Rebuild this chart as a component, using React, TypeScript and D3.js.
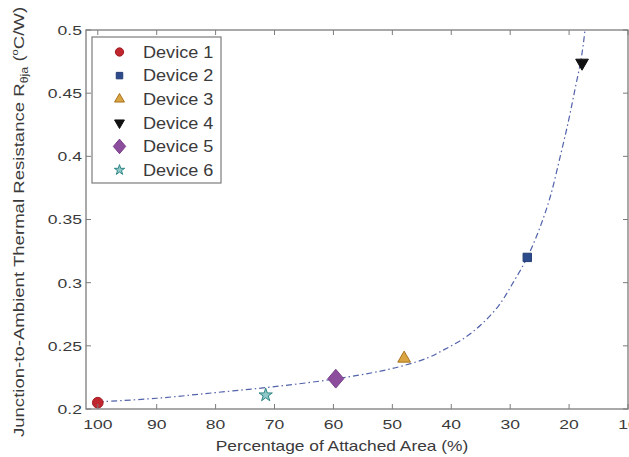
import React from 'react';
import * as d3 from 'd3';

// Measured devices: percentage of attached area vs. junction-to-ambient resistance
const deviceNames = ['Device 1', 'Device 2', 'Device 3', 'Device 4', 'Device 5', 'Device 6'];
const deviceArea = [100, 27.1, 48, 17.8, 59.6, 71.5];
const deviceRth = [0.205, 0.32, 0.24, 0.474, 0.224, 0.211];

// Fitted trend curve (dash-dot)
const fitArea = [100, 90, 80, 70, 60, 52, 48, 44, 41.4, 38, 35, 32, 29.5, 27.1, 25, 23.2, 21.5, 20.1, 19.0, 18.0, 17.5, 17.2];
const fitRth = [0.2056, 0.2085, 0.213, 0.2177, 0.2236, 0.23, 0.2345, 0.2405, 0.2465, 0.2555, 0.2665, 0.2815, 0.3, 0.32, 0.343, 0.368, 0.4, 0.428, 0.453, 0.476, 0.492, 0.505];

const xTicks = [100, 90, 80, 70, 60, 50, 40, 30, 20, 10];
const yTicks = [0.2, 0.25, 0.3, 0.35, 0.4, 0.45, 0.5];
const yTickLabels = ['0.2', '0.25', '0.3', '0.35', '0.4', '0.45', '0.5'];

const W = 629;
const H = 457;
const plot = { left: 86, right: 628, top: 30, bottom: 409 };
const FONT = '"Liberation Sans", Arial, Helvetica, sans-serif';
const AXIS = '#7c7c7c';
const TEXT = '#3a3a3a';
const TICK_STRETCH = 1.3;

// Custom symbols: square-like diamond and downward triangle
const diamondWide: d3.SymbolType = {
  draw(ctx, size) {
    const h = Math.sqrt(size / 1.7);
    const w = h * 0.85;
    ctx.moveTo(0, -h);
    ctx.lineTo(w, 0);
    ctx.lineTo(0, h);
    ctx.lineTo(-w, 0);
    ctx.closePath();
  },
};
const triangleDown: d3.SymbolType = {
  draw(ctx, size) {
    const s = Math.sqrt((size * 4) / Math.sqrt(3));
    const hgt = (s * Math.sqrt(3)) / 2;
    ctx.moveTo(-s / 2, -hgt / 3);
    ctx.lineTo(s / 2, -hgt / 3);
    ctx.lineTo(0, (2 * hgt) / 3);
    ctx.closePath();
  },
};

const markerStyles = [
  { type: d3.symbolCircle, size: 90, fill: '#c0262d', stroke: '#a01c22' },
  { type: d3.symbolSquare, size: 70, fill: '#2d4a8a', stroke: '#253d75' },
  { type: d3.symbolTriangle, size: 70, fill: '#d9a441', stroke: '#a8731c' },
  { type: triangleDown, size: 70, fill: '#111111', stroke: '#111111' },
  { type: diamondWide, size: 150, fill: '#8c4d9c', stroke: '#7a3f8a' },
  { type: d3.symbolStar, size: 55, fill: '#8fc9c9', stroke: '#2f8585' },
];

export default function App() {
  const x = d3.scaleLinear().domain([102, 10]).range([plot.left, plot.right]);
  const y = d3.scaleLinear().domain([0.2, 0.5]).range([plot.bottom, plot.top]);

  const fitPts: [number, number][] = fitArea.map((a, i) => [x(a), y(fitRth[i])]);
  const fitPath = d3.line().curve(d3.curveCatmullRom.alpha(0.5))(fitPts) || '';

  const tickLen = 5;
  const legend = { x: 92, y: 37, w: 129, h: 146, rowH: 23.6, first: 52 };

  return (
    <svg
      width={W}
      height={H}
      style={{ position: 'absolute', left: 0, top: 0, background: '#fff' }}
      fontFamily={FONT}
    >
      <defs>
        <clipPath id="plotClip">
          <rect x={plot.left} y={plot.top} width={plot.right - plot.left} height={plot.bottom - plot.top} />
        </clipPath>
      </defs>
      <rect x={0} y={0} width={W} height={H} fill="#fff" />

      {/* fitted curve */}
      <path
        d={fitPath}
        fill="none"
        stroke="#5262aa"
        strokeWidth={1.2}
        strokeDasharray="6,3,1.5,3"
        clipPath="url(#plotClip)"
      />

      {/* device markers */}
      {deviceArea.map((a, i) => {
        const m = markerStyles[i];
        return (
          <path
            key={deviceNames[i]}
            d={d3.symbol().type(m.type).size(m.size)() || ''}
            transform={`translate(${x(a)},${y(deviceRth[i])})`}
            fill={m.fill}
            stroke={m.stroke}
            strokeWidth={1}
          />
        );
      })}

      {/* axes frame */}
      <rect
        x={plot.left}
        y={plot.top}
        width={plot.right - plot.left}
        height={plot.bottom - plot.top}
        fill="none"
        stroke={AXIS}
        strokeWidth={1.3}
      />
      {xTicks.map((t) => (
        <g key={`xt${t}`}>
          <line x1={x(t)} x2={x(t)} y1={plot.bottom} y2={plot.bottom - tickLen} stroke={AXIS} />
          <line x1={x(t)} x2={x(t)} y1={plot.top} y2={plot.top + tickLen} stroke={AXIS} />
          <g transform={`translate(${x(t)},429) scale(${TICK_STRETCH},1)`}>
            <text textAnchor="middle" fontSize={13.5} fill={TEXT}>
              {t}
            </text>
          </g>
        </g>
      ))}
      {yTicks.map((t, i) => (
        <g key={`yt${t}`}>
          <line x1={plot.left} x2={plot.left + tickLen} y1={y(t)} y2={y(t)} stroke={AXIS} />
          <line x1={plot.right} x2={plot.right - tickLen} y1={y(t)} y2={y(t)} stroke={AXIS} />
          <g transform={`translate(82,${y(t)}) scale(${TICK_STRETCH},1)`}>
            <text dy="0.36em" textAnchor="end" fontSize={13.5} fill={TEXT}>
              {yTickLabels[i]}
            </text>
          </g>
        </g>
      ))}

      {/* axis titles */}
      <g transform="translate(342,451) scale(1.24,1)">
        <text textAnchor="middle" fontSize={14} fill={TEXT}>
          Percentage of Attached Area (%)
        </text>
      </g>
      <g transform="translate(24,222) rotate(-90) scale(1.24,1)">
        <text textAnchor="middle" fontSize={15} fill={TEXT}>
          Junction-to-Ambient Thermal Resistance R
          <tspan fontSize={10} dy={4}>θja</tspan>
          <tspan dy={-4}> (</tspan>
          <tspan fontSize={9} dy={-6}>o</tspan>
          <tspan dy={6}>C/W)</tspan>
        </text>
      </g>

      {/* legend */}
      <rect x={legend.x} y={legend.y} width={legend.w} height={legend.h} fill="#fff" stroke={AXIS} strokeWidth={1.2} />
      {deviceNames.map((name, i) => {
        const m = markerStyles[i];
        const cy = legend.first + i * legend.rowH;
        return (
          <g key={`lg${name}`}>
            <path
              d={d3.symbol().type(m.type).size(m.size * 0.6)() || ''}
              transform={`translate(119.5,${cy})`}
              fill={m.fill}
              stroke={m.stroke}
              strokeWidth={1}
            />
            <g transform={`translate(143,${cy + 5.8}) scale(1.13,1)`}>
              <text fontSize={16} fill={TEXT}>
                {name}
              </text>
            </g>
          </g>
        );
      })}
    </svg>
  );
}
